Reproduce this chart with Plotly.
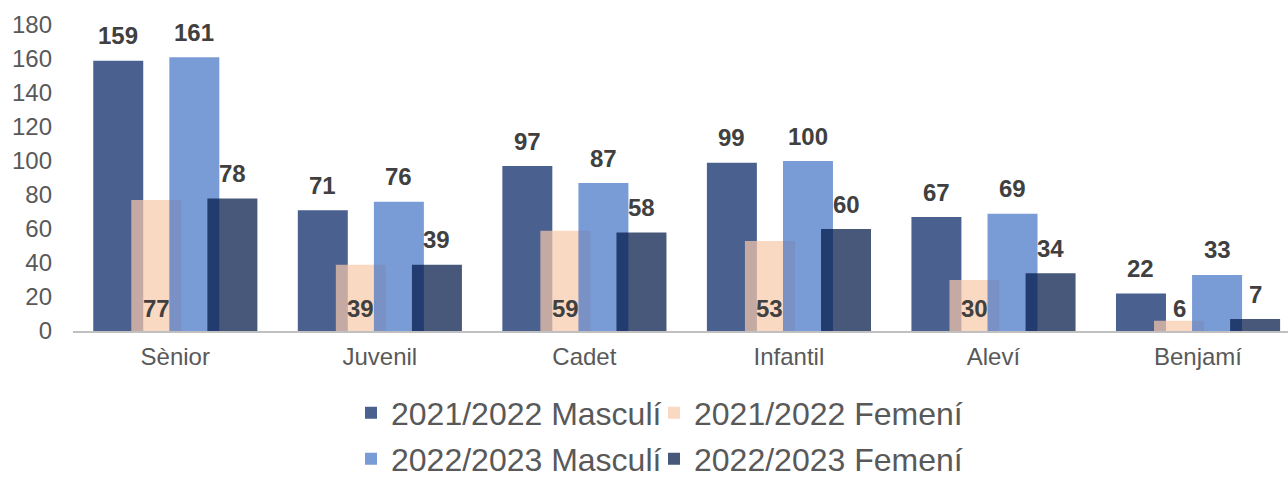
import plotly.graph_objects as go

categories = ["Sènior", "Juvenil", "Cadet", "Infantil", "Aleví", "Benjamí"]
masc_2122 = [159, 71, 97, 99, 67, 22]
fem_2122 = [77, 39, 59, 53, 30, 6]
masc_2223 = [161, 76, 87, 100, 69, 33]
fem_2223 = [78, 39, 58, 60, 34, 7]
series_names = ["2021/2022 Masculí", "2021/2022 Femení", "2022/2023 Masculí", "2022/2023 Femení"]
y_ticks = [0, 20, 40, 60, 80, 100, 120, 140, 160, 180]

FONT = "Arial, Liberation Sans, sans-serif"
BAR_W = 0.2444
OFFSETS = [-0.401, -0.215, -0.029, 0.157]
COLORS = ["#4a6190", "rgba(248,201,169,0.70)", "rgba(66,114,196,0.70)", "rgba(2,24,70,0.72)"]
LEGENDS = ["legend", "legend2", "legend3", "legend4"]

xs = list(range(len(categories)))
series = [masc_2122, fem_2122, masc_2223, fem_2223]

fig = go.Figure()
for name, vals, off, col, lg in zip(series_names, series, OFFSETS, COLORS, LEGENDS):
    fig.add_trace(go.Bar(
        x=xs, y=vals, name=name, width=BAR_W, offset=off,
        marker=dict(color=col, line=dict(width=0)),
        legend=lg, showlegend=True, hoverinfo="skip",
    ))

label_font = dict(family=FONT, size=24, color="#404040", weight="bold")
annotations = []
for k, vals in enumerate(series):
    for i, v in enumerate(vals):
        cx = xs[i] + OFFSETS[k] + BAR_W / 2
        if k == 1:
            annotations.append(dict(x=cx, y=0, yshift=23, text=str(v), showarrow=False,
                                    xref="x", yref="y", yanchor="middle", font=label_font))
        else:
            annotations.append(dict(x=cx, y=v, yshift=25, text=str(v), showarrow=False,
                                    xref="x", yref="y", yanchor="middle", font=label_font))

legend_font = dict(family=FONT, size=32, color="#595959")
common_legend = dict(orientation="h", xref="container", yref="container",
                     xanchor="left", yanchor="middle",
                     font=legend_font, bgcolor="rgba(0,0,0,0)")
col1_x = (392 - 41) / 1288
col2_x = (695 - 41) / 1288
row1_y = 1 - 413 / 479
row2_y = 1 - 459 / 479
fig.update_layout(
    width=1288, height=479,
    showlegend=True,
    barmode="overlay",
    paper_bgcolor="white", plot_bgcolor="white",
    margin=dict(l=73, r=0, t=25, b=148),
    font=dict(family=FONT, size=24, color="#595959"),
    annotations=annotations,
    legend=dict(common_legend, x=col1_x, y=row1_y, visible=True),
    legend2=dict(common_legend, x=col2_x, y=row1_y),
    legend3=dict(common_legend, x=col1_x, y=row2_y),
    legend4=dict(common_legend, x=col2_x, y=row2_y),
    xaxis=dict(range=[-0.5, 5.44], tickvals=xs, ticktext=categories,
               showgrid=False, zeroline=False, showline=True, linecolor="#c0c0c0",
               linewidth=2, ticks="", ticklabelstandoff=3, automargin=False,
               tickfont=dict(family=FONT, size=24, color="#595959")),
    yaxis=dict(range=[0, 180], tickvals=y_ticks, showgrid=False, zeroline=False,
               showline=False, ticks="", ticklabelstandoff=20, automargin=False,
               tickfont=dict(family=FONT, size=24, color="#595959")),
)

fig.write_html("out.html", config={"displayModeBar": False},
               post_script="document.body.style.margin='0';document.body.style.padding='0';")
